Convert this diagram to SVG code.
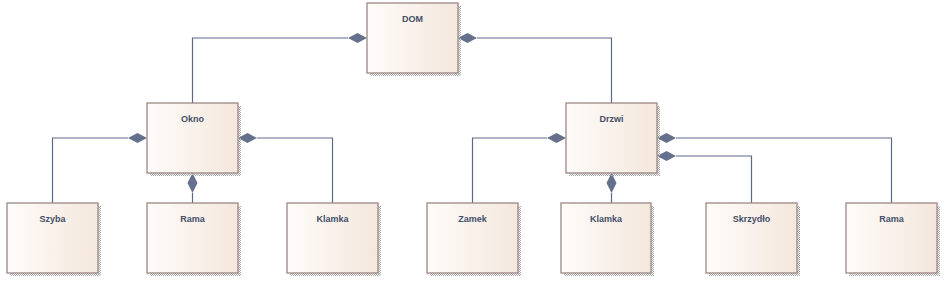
<svg xmlns="http://www.w3.org/2000/svg" width="948" height="287" viewBox="0 0 948 287">
<defs>
<linearGradient id="g" x1="0" y1="0" x2="1" y2="0">
<stop offset="0" stop-color="#fefcfa"/>
<stop offset="1" stop-color="#f4e7dc"/>
</linearGradient>
<pattern id="dots" width="2" height="2" patternUnits="userSpaceOnUse">
<rect width="1" height="1" fill="#a8a8a8"/>
<rect x="1" y="1" width="1" height="1" fill="#a8a8a8"/>
</pattern>
<style>
.box{fill:url(#g);stroke:#9b8785;stroke-width:1.3}
.sh{fill:url(#dots)}
.lbl{font-family:"Liberation Sans",Arial,sans-serif;font-size:9px;font-weight:bold;fill:#454e68;text-anchor:middle}
.ln{fill:none;stroke:#5f6a88;stroke-width:1.2}
.dm{fill:#65708c;stroke:none}
</style>
</defs>
<g id="connectors">
<path class="ln" d="M348,38 H192.5 V103"/>
<polygon class="dm" points="367,38 357.5,33 348,38 357.5,43"/>
<path class="ln" d="M477,38 H611.5 V103"/>
<polygon class="dm" points="458,38 467.5,33 477,38 467.5,43"/>
<path class="ln" d="M128,138 H52.5 V203"/>
<polygon class="dm" points="147,138 137.5,133 128,138 137.5,143"/>
<path class="ln" d="M192.5,193 V203"/>
<polygon class="dm" points="192.5,173 187.5,183 192.5,193 197.5,183"/>
<path class="ln" d="M257,138 H332.5 V203"/>
<polygon class="dm" points="238,138 247.5,133 257,138 247.5,143"/>
<path class="ln" d="M547,138 H472.5 V203"/>
<polygon class="dm" points="566,138 556.5,133 547,138 556.5,143"/>
<path class="ln" d="M611.5,193 V203"/>
<polygon class="dm" points="611.5,173 606.5,183 611.5,193 616.5,183"/>
<path class="ln" d="M676,138 H891.5 V203"/>
<polygon class="dm" points="657,138 666.5,133 676,138 666.5,143"/>
<path class="ln" d="M676,156 H751.5 V203"/>
<polygon class="dm" points="657,156 666.5,151 676,156 666.5,161"/>
</g>
<g id="DOM">
<rect class="sh" x="370" y="6" width="91" height="70"/>
<rect class="box" x="367" y="3" width="91" height="70"/>
<text class="lbl" x="412.5" y="22">DOM</text>
</g>
<g id="Okno">
<rect class="sh" x="150" y="106" width="91" height="70"/>
<rect class="box" x="147" y="103" width="91" height="70"/>
<text class="lbl" x="192.5" y="122">Okno</text>
</g>
<g id="Drzwi">
<rect class="sh" x="569" y="106" width="91" height="70"/>
<rect class="box" x="566" y="103" width="91" height="70"/>
<text class="lbl" x="611.5" y="122">Drzwi</text>
</g>
<g id="Szyba">
<rect class="sh" x="10" y="206" width="91" height="70"/>
<rect class="box" x="7" y="203" width="91" height="70"/>
<text class="lbl" x="52.5" y="222">Szyba</text>
</g>
<g id="Rama1">
<rect class="sh" x="150" y="206" width="91" height="70"/>
<rect class="box" x="147" y="203" width="91" height="70"/>
<text class="lbl" x="192.5" y="222">Rama</text>
</g>
<g id="Klamka1">
<rect class="sh" x="290" y="206" width="91" height="70"/>
<rect class="box" x="287" y="203" width="91" height="70"/>
<text class="lbl" x="332.5" y="222">Klamka</text>
</g>
<g id="Zamek">
<rect class="sh" x="430" y="206" width="91" height="70"/>
<rect class="box" x="427" y="203" width="91" height="70"/>
<text class="lbl" x="472.5" y="222">Zamek</text>
</g>
<g id="Klamka2">
<rect class="sh" x="564" y="206" width="90" height="70"/>
<rect class="box" x="561" y="203" width="90" height="70"/>
<text class="lbl" x="606" y="222">Klamka</text>
</g>
<g id="Skrzydlo">
<rect class="sh" x="709" y="206" width="91" height="70"/>
<rect class="box" x="706" y="203" width="91" height="70"/>
<text class="lbl" x="751.5" y="222">Skrzydło</text>
</g>
<g id="Rama2">
<rect class="sh" x="849" y="206" width="91" height="70"/>
<rect class="box" x="846" y="203" width="91" height="70"/>
<text class="lbl" x="891.5" y="222">Rama</text>
</g>
</svg>
